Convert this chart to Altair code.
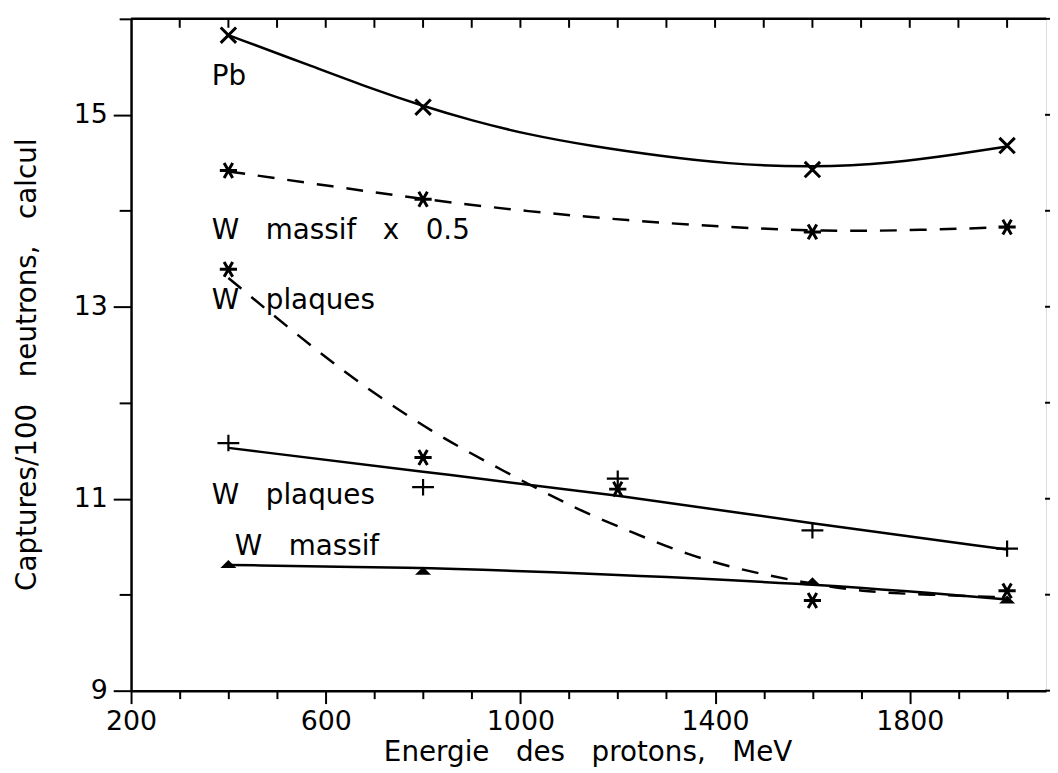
import altair as alt
import pandas as pd

FONT = "DejaVu Sans"
NB = "\u00a0"

# ---- axes ----
x_domain = [200, 2080]
y_domain = [9, 16]
x_tick_values = list(range(200, 2001, 100))
x_top_ticks = list(range(300, 2001, 100))
y_tick_values = list(range(9, 17))

# ---- computed points (markers) ----
pb_x = [400, 800, 1600, 2000]
pb_y = [15.83, 15.08, 14.43, 14.68]
wm05_x = [400, 800, 1600, 2000]
wm05_y = [14.42, 14.12, 13.78, 13.83]
wpl_star_x = [400, 800, 1200, 1600, 2000]
wpl_star_y = [13.39, 11.43, 11.10, 9.94, 10.04]
wpl_plus_x = [400, 800, 1200, 1600, 2000]
wpl_plus_y = [11.58, 11.12, 11.21, 10.67, 10.48]
wm_x = [400, 800, 1600, 2000]
wm_y = [10.32, 10.25, 10.14, 9.95]

# ---- fitted curves ----
pb_fit_x = [400, 580, 690, 800, 900, 1010, 1150, 1290, 1420, 1600, 1770, 1900, 2000]
pb_fit_y = [15.83, 15.49, 15.28, 15.09, 14.94, 14.80, 14.67, 14.57, 14.49, 14.45, 14.50, 14.59, 14.67]
wm05_fit_x = [400, 620, 800, 1020, 1220, 1420, 1600, 1770, 2000]
wm05_fit_y = [14.41, 14.25, 14.12, 13.99, 13.90, 13.83, 13.79, 13.79, 13.83]
wpl_fit_x = [400, 550, 670, 815, 965, 1115, 1230, 1340, 1460, 1580, 1700, 1840, 2000]
wpl_fit_y = [13.30, 12.67, 12.20, 11.70, 11.29, 10.89, 10.65, 10.42, 10.25, 10.13, 10.03, 10.00, 9.97]
wplus_fit_x = [400, 800, 1200, 1600, 2000]
wplus_fit_y = [11.53, 11.28, 11.04, 10.74, 10.47]
wm_fit_x = [400, 800, 1000, 1600, 2000]
wm_fit_y = [10.31, 10.28, 10.25, 10.12, 9.95]

# ---- in-plot labels ----
label_text = ["Pb",
              "W" + NB * 3 + "massif" + NB * 3 + "x" + NB * 3 + "0.5",
              "W" + NB * 3 + "plaques",
              "W" + NB * 3 + "plaques",
              "W" + NB * 3 + "massif"]
label_x = [366, 366, 366, 366, 413]
label_y = [15.31, 13.71, 12.98, 10.94, 10.41]

x_title = "Energie" + NB * 3 + "des" + NB * 3 + "protons," + NB * 3 + "MeV"
y_title = "Captures/100" + NB * 3 + "neutrons," + NB * 3 + "calcul"

W, H = 922, 677

x_scale = alt.Scale(domain=x_domain, nice=False, zero=False)
y_scale = alt.Scale(domain=y_domain, nice=False, zero=False)

x_axis = alt.Axis(
    values=x_tick_values, format="d",
    labelExpr="datum.value % 400 == 200 ? datum.label : ''",
    tickSize={"condition": {"test": "datum.value % 400 == 200", "value": 13}, "value": 8},
    tickWidth=2, tickColor="black", domainWidth=2.5, domainColor="black",
    labelPadding=5, labelFontSize=27, labelFont=FONT, labelColor="black",
    labelFlush=False, labelOverlap=False, grid=False,
    title=x_title, titleFont=FONT, titleFontSize=28, titleFontWeight="normal",
    titleColor="black", titleX=460, titleY=70, titleBaseline="alphabetic", titleAlign="center",
)
y_axis = alt.Axis(
    values=y_tick_values,
    labelExpr="(datum.value % 2 == 1 && datum.value < 16) ? datum.label : ''",
    tickSize={"condition": {"test": "datum.value % 2 == 1 && datum.value < 16", "value": 18}, "value": 12},
    tickWidth=2, tickColor="black", domainWidth=2.5, domainColor="black",
    labelPadding=6, labelFontSize=27, labelFont=FONT, labelColor="black",
    labelFlush=False, labelOverlap=False, grid=False,
    title=y_title, titleFont=FONT, titleFontSize=28, titleFontWeight="normal",
    titleColor="black", titleX=-96, titleY=348, titleAngle=270,
    titleBaseline="alphabetic", titleAlign="center",
)


def X(field="e"):
    return alt.X(f"{field}:Q", scale=x_scale, axis=x_axis)


def Y(field="v"):
    return alt.Y(f"{field}:Q", scale=y_scale, axis=y_axis)


def curve(xs, ys, dashed, interp="basis"):
    df = pd.DataFrame({"e": xs, "v": ys})
    kw = dict(color="black", strokeWidth=2.5, interpolate=interp)
    if dashed:
        kw["strokeDash"] = [17, 13]
    return alt.Chart(df).mark_line(**kw).encode(x=X(), y=Y())


X_PATH = "M-1,-1L1,1M-1,1L1,-1"
STAR_PATH = "M-1,0L1,0M-0.5,-0.866L0.5,0.866M-0.5,0.866L0.5,-0.866"
PLUS_PATH = "M-1,0L1,0M0,-0.75L0,0.75"
TRI_PATH = "M-1,0.5L1,0.5L0,-0.5Z"


def markers(xs, ys, shape, size, filled=False, sw=2.5):
    df = pd.DataFrame({"e": xs, "v": ys})
    if filled:
        m = alt.Chart(df).mark_point(shape=shape, size=size, filled=True, color="black",
                                     opacity=1, strokeWidth=0)
    else:
        m = alt.Chart(df).mark_point(shape=shape, size=size, filled=False, color="black",
                                     opacity=1, strokeWidth=sw)
    return m.encode(x=X(), y=Y())


layers = [
    curve(pb_fit_x, pb_fit_y, False),
    curve(wm05_fit_x, wm05_fit_y, True),
    curve(wpl_fit_x, wpl_fit_y, True),
    curve(wplus_fit_x, wplus_fit_y, False),
    curve(wm_fit_x, wm_fit_y, False),
    markers(pb_x, pb_y, X_PATH, 240, sw=3),
    markers(wm05_x, wm05_y, STAR_PATH, 300, sw=3),
    markers(wpl_star_x, wpl_star_y, STAR_PATH, 300, sw=3),
    markers(wpl_plus_x, wpl_plus_y, PLUS_PATH, 484, sw=2.2),
    markers(wm_x, wm_y, TRI_PATH, 260, filled=True),
]

labels_df = pd.DataFrame({"e": label_x, "v": label_y, "t": label_text})
layers.append(
    alt.Chart(labels_df).mark_text(align="left", baseline="alphabetic", font=FONT,
                                   fontSize=28, color="black")
    .encode(x=X(), y=Y(), text="t:N")
)

# top frame line with inward ticks, right-side ticks
frame_df = pd.DataFrame({"k": [0]})
layers.append(
    alt.Chart(frame_df).mark_rule(color="black", strokeWidth=2.5)
    .encode(x=alt.value(0), x2=alt.value(W), y=alt.value(0))
)
top_df = pd.DataFrame({"e": x_top_ticks})
layers.append(
    alt.Chart(top_df).mark_rule(color="black", strokeWidth=2)
    .encode(x=X(), y=alt.value(0), y2=alt.value(9))
)
right_df = pd.DataFrame({"v": y_tick_values})
layers.append(
    alt.Chart(right_df).mark_rule(color="black", strokeWidth=2)
    .encode(y=Y(), x=alt.value(W - 1), x2=alt.value(W + 6))
)

chart = (
    alt.layer(*layers)
    .properties(width=W, height=H, autosize=alt.AutoSizeParams(type="none"),
                padding={"left": 124, "top": 8, "right": 4, "bottom": 76})
    .configure_view(stroke=None)
    .configure(font=FONT)
)

chart.save("out.html", embed_options={"renderer": "svg", "actions": False})
